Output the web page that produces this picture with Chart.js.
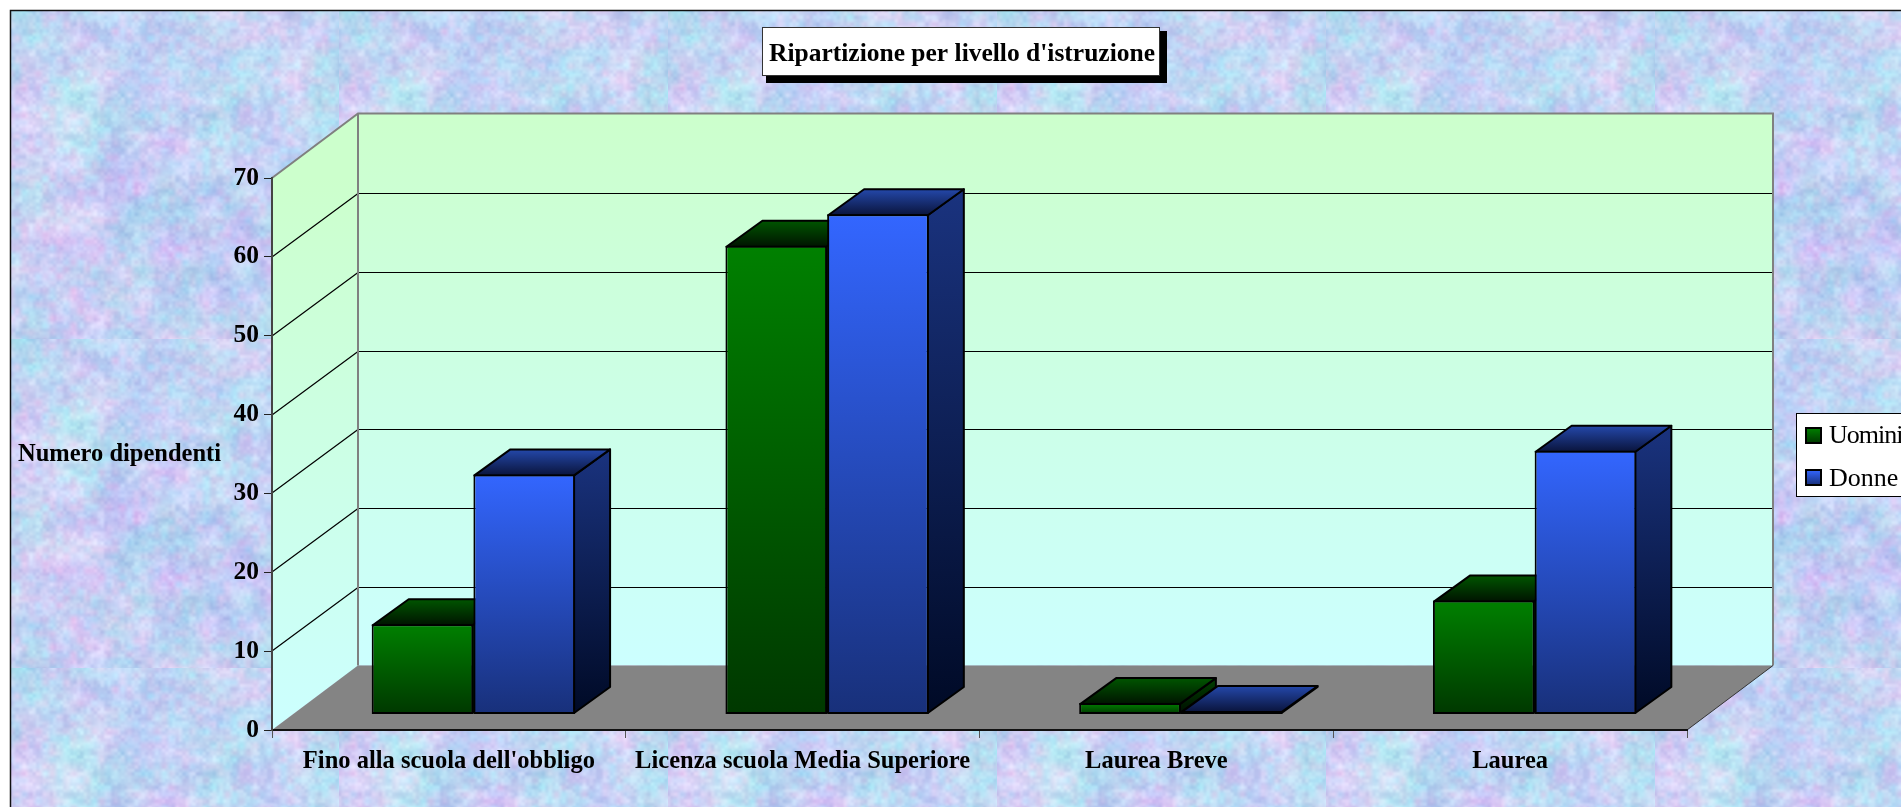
<!DOCTYPE html>
<html><head><meta charset="utf-8">
<style>html,body{margin:0;padding:0;background:#fff;overflow:hidden}canvas{display:block}</style>
<script src="https://cdn.jsdelivr.net/npm/chart.js@4/dist/chart.umd.js"></script>
</head><body>
<canvas id="c" width="1901" height="807"></canvas>
<script>
const categories = ["Fino alla scuola dell'obbligo", "Licenza scuola Media Superiore", "Laurea Breve", "Laurea"];
const uomini = [11, 59, 1, 14];
const donne = [30, 63, 0, 33];
const seriesNames = ["Uomini", "Donne"];
const chartTitle = "Ripartizione per livello d'istruzione";
const yAxisTitle = "Numero dipendenti";

const SERIF = '"Liberation Serif"';
const WALL = {dx: 86, dy: 64.5};
const BAR_SHIFT = {dx: 24.5, dy: 19};
const BAR_DEPTH = {dx: 36, dy: 26};
const palette = [
  {front: ['#008000', '#003800'], top: ['#005500', '#001400'], side: ['#004000', '#000f00']},
  {front: ['#3366ff', '#18307a'], top: ['#2448aa', '#0a143c'], side: ['#1a337f', '#000a26']}
];

function latticeNoise(x, y, period, seed) {
  const h = (i, j) => {
    const s = Math.sin(i * 127.1 + j * 311.7 + seed * 74.7) * 43758.5453;
    return s - Math.floor(s);
  };
  const fx = x / period, fy = y / period;
  const i = Math.floor(fx), j = Math.floor(fy);
  const u = fx - i, v = fy - j;
  const su = u * u * (3 - 2 * u), sv = v * v * (3 - 2 * v);
  const a = h(i, j), b = h(i + 1, j), c = h(i, j + 1), d = h(i + 1, j + 1);
  return a + (b - a) * su + (c - a) * sv + (a - b - c + d) * su * sv;
}
function makeTile(size) {
  const t = document.createElement('canvas');
  t.width = t.height = size;
  const g = t.getContext('2d');
  const im = g.createImageData(size, size);
  for (let y = 0; y < size; y++) for (let x = 0; x < size; x++) {
    const big = latticeNoise(x, y, 70, 1), big2 = latticeNoise(x, y, 55, 2);
    const mid = latticeNoise(x, y, 22, 3), mid2 = latticeNoise(x, y, 26, 4);
    const f1 = latticeNoise(x, y, 7, 5), f2 = latticeNoise(x, y, 7, 6), f3 = latticeNoise(x, y, 3.4, 7);
    const R = 196 + 22 * (big - .5) + 38 * (mid - .5) + 30 * (f1 - .5) + 16 * (f3 - .5);
    const G = 210 + 14 * (big2 - .5) + 28 * (mid2 - .5) + 26 * (f2 - .5) + 16 * (f3 - .5);
    const B = 243 + 10 * (mid - .5) + 14 * (f2 - .5) + 8 * (f3 - .5);
    const p = (y * size + x) * 4;
    im.data[p] = R; im.data[p + 1] = G; im.data[p + 2] = Math.min(255, B); im.data[p + 3] = 255;
  }
  g.putImageData(im, 0, 0);
  return t;
}
const tile = makeTile(329);

function poly(ctx, pts) {
  ctx.beginPath();
  pts.forEach((p, i) => i ? ctx.lineTo(p[0], p[1]) : ctx.moveTo(p[0], p[1]));
  ctx.closePath();
}
function vGrad(ctx, y0, y1, stops) {
  if (Math.abs(y1 - y0) < 1) y0 = y1 - 1;
  const g = ctx.createLinearGradient(0, y0, 0, y1);
  g.addColorStop(0, stops[0]); g.addColorStop(1, stops[1]);
  return g;
}

const scene = {
  id: 'scene',
  beforeDraw(chart) {
    const ctx = chart.ctx, a = chart.chartArea, ys = chart.scales.y;
    ctx.save();
    ctx.fillStyle = '#fff';
    ctx.fillRect(0, 0, chart.width, chart.height);
    ctx.save();
    ctx.translate(10, 10);
    ctx.fillStyle = ctx.createPattern(tile, 'repeat');
    ctx.fillRect(0, 0, chart.width, chart.height);
    ctx.restore();
    ctx.strokeStyle = '#111';
    ctx.lineWidth = 1.5;
    ctx.beginPath();
    ctx.moveTo(10.5, chart.height + 2); ctx.lineTo(10.5, 10.5); ctx.lineTo(chart.width + 2, 10.5);
    ctx.stroke();

    const L = a.left, R = a.right, T = a.top, B = a.bottom, dx = WALL.dx, dy = WALL.dy;
    // side wall and back wall
    poly(ctx, [[L, T], [L + dx, T - dy], [L + dx, B - dy], [L, B]]);
    ctx.fillStyle = vGrad(ctx, T, B, ['#ccffcc', '#ccffff']);
    ctx.fill();
    ctx.fillStyle = vGrad(ctx, T - dy, B - dy, ['#ccffcc', '#ccffff']);
    ctx.fillRect(L + dx, T - dy, R - L, B - T);
    // floor
    poly(ctx, [[L, B], [L + dx, B - dy], [R + dx, B - dy], [R, B]]);
    ctx.fillStyle = '#848484';
    ctx.fill();
    // grid lines from the value scale
    ctx.strokeStyle = '#000';
    ctx.lineWidth = 1.2;
    ys.ticks.forEach(t => {
      if (t.value === ys.min || t.value === ys.max) return;
      const py = Math.round(ys.getPixelForValue(t.value));
      const by = Math.round(py - dy) + .5;
      ctx.beginPath();
      ctx.moveTo(L + dx, by); ctx.lineTo(R + dx, by);
      ctx.moveTo(L, py); ctx.lineTo(L + dx, by);
      ctx.stroke();
    });
    // wall outline
    ctx.strokeStyle = '#808080';
    ctx.lineWidth = 2;
    ctx.beginPath();
    ctx.moveTo(L, T); ctx.lineTo(L + dx, T - dy); ctx.lineTo(R + dx, T - dy); ctx.lineTo(R + dx, B - dy);
    ctx.moveTo(L + dx, T - dy); ctx.lineTo(L + dx, B - dy);
    ctx.stroke();
    ctx.strokeStyle = '#333';
    ctx.lineWidth = 1;
    ctx.beginPath();
    ctx.moveTo(R, B); ctx.lineTo(R + dx, B - dy);
    ctx.stroke();
    ctx.restore();
  },
  beforeDatasetsDraw(chart) {
    const ctx = chart.ctx;
    // first series first, so each later box sits in front of the earlier one
    chart.data.datasets.forEach((ds, index) => {
      const colors = palette[index], meta = chart.getDatasetMeta(index);
      ctx.save();
      meta.data.forEach(el => {
        const x0 = el.x - el.width / 2 + BAR_SHIFT.dx + 1, x1 = el.x + el.width / 2 + BAR_SHIFT.dx - 1;
        const y0 = el.y - BAR_SHIFT.dy + 1, y1 = el.base - BAR_SHIFT.dy - 1;
        const ddx = BAR_DEPTH.dx, ddy = BAR_DEPTH.dy;
        ctx.lineWidth = 2;
        ctx.lineJoin = 'round';
        ctx.strokeStyle = '#000';
        poly(ctx, [[x1, y0], [x1 + ddx, y0 - ddy], [x1 + ddx, y1 - ddy], [x1, y1]]);
        ctx.fillStyle = vGrad(ctx, y0 - ddy, y1, colors.side);
        ctx.fill(); ctx.stroke();
        poly(ctx, [[x0, y0], [x0 + ddx, y0 - ddy], [x1 + ddx, y0 - ddy], [x1, y0]]);
        ctx.fillStyle = vGrad(ctx, y0 - ddy, y0, colors.top);
        ctx.fill(); ctx.stroke();
      });
      ctx.translate(BAR_SHIFT.dx, -BAR_SHIFT.dy);
      meta.controller.draw();
      ctx.restore();
    });
    return false;
  },
  afterDraw(chart) {
    const ctx = chart.ctx;
    ctx.save();
    // title box
    ctx.fillStyle = '#000';
    ctx.fillRect(766, 31, 401, 52);
    ctx.fillStyle = '#fff';
    ctx.fillRect(762, 27, 398, 49);
    ctx.strokeStyle = '#333';
    ctx.lineWidth = 1;
    ctx.strokeRect(762.5, 27.5, 397, 48);
    ctx.fillStyle = '#000';
    ctx.textBaseline = 'alphabetic';
    ctx.textAlign = 'center';
    ctx.font = `bold 25.5px ${SERIF}`;
    ctx.fillText(chartTitle, 962, 61);
    // value axis title
    ctx.textAlign = 'left';
    ctx.font = `bold 24.5px ${SERIF}`;
    ctx.fillText(yAxisTitle, 18, 460.5);
    // legend
    ctx.fillStyle = '#fff';
    ctx.fillRect(1796, 413, 120, 83);
    ctx.strokeStyle = '#000';
    ctx.lineWidth = 1;
    ctx.strokeRect(1796.5, 413.5, 120, 83);
    ctx.font = `26px ${SERIF}`;
    seriesNames.forEach((name, i) => {
      const sy = 428 + i * 42;
      ctx.fillStyle = vGrad(ctx, sy, sy + 15, palette[i].front);
      ctx.fillRect(1806, sy, 15, 15);
      ctx.strokeStyle = '#000';
      ctx.lineWidth = 2;
      ctx.strokeRect(1806, sy, 15, 15);
      ctx.fillStyle = '#000';
      ctx.letterSpacing = i === 0 ? '-1px' : '0px';
      ctx.fillText(name, 1829, 443 + i * 43);
    });
    ctx.letterSpacing = '0px';
    ctx.restore();
  }
};

const barStyle = i => ({
  label: seriesNames[i],
  base: -0.38,
  borderColor: '#000',
  borderWidth: 2,
  borderSkipped: false,
  barPercentage: 1,
  categoryPercentage: 0.575,
  backgroundColor(c) {
    const ys = c.chart.scales.y;
    if (!ys || !c.parsed) return palette[i].front[0];
    const y0 = ys.getPixelForValue(c.parsed.y), y1 = ys.getPixelForValue(-0.38);
    if (!isFinite(y0) || !isFinite(y1)) return palette[i].front[0];
    return vGrad(c.chart.ctx, y0, y1, palette[i].front);
  }
});

new Chart(document.getElementById('c'), {
  type: 'bar',
  data: {
    labels: categories,
    datasets: [
      Object.assign({data: uomini}, barStyle(0)),
      Object.assign({data: donne}, barStyle(1))
    ]
  },
  plugins: [scene],
  options: {
    responsive: false,
    animation: false,
    events: [],
    layout: {padding: {left: 0, top: 178, right: 214, bottom: 0}},
    plugins: {legend: {display: false}, title: {display: false}, tooltip: {enabled: false}},
    scales: {
      x: {
        afterFit(s) { s.height = 77; },
        offset: true,
        border: {color: '#111', width: 2},
        grid: {offset: true, drawOnChartArea: false, drawTicks: true, tickLength: 8, color: '#555', lineWidth: 1},
        ticks: {autoSkip: false, maxRotation: 0, minRotation: 0, padding: 9, color: '#000',
                font: {family: SERIF, weight: 'bold', size: 24.5}}
      },
      y: {
        afterFit(s) { s.width = 272; },
        min: 0, max: 70,
        border: {color: '#444', width: 2},
        grid: {drawOnChartArea: false, drawTicks: true, tickLength: 8, color: '#222', lineWidth: 1},
        ticks: {stepSize: 10, padding: 5, color: '#000',
                font: {family: SERIF, weight: 'bold', size: 25.5}}
      }
    }
  }
});
</script>
</body></html>
